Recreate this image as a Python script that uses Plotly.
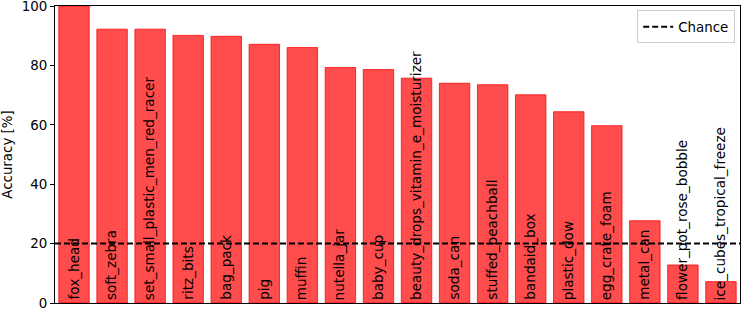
import plotly.graph_objects as go

categories = ["fox_head", "soft_zebra", "set_small_plastic_men_red_racer", "ritz_bits",
              "bag_pack", "pig", "muffin", "nutella_jar", "baby_cup",
              "beauty_drops_vitamin_e_moisturizer", "soda_can", "stuffed_beachball",
              "bandaid_box", "plastic_dow", "egg_crate_foam", "metal_can",
              "flower_pot_rose_bobble", "ice_cubes_tropical_freeze"]
accuracy = [100.0, 92.2, 92.2, 90.1, 89.8, 87.1, 86.0, 79.3, 78.6,
            75.7, 74.0, 73.5, 70.1, 64.4, 59.7, 27.7, 12.8, 7.2]
chance_level = 20
y_ticks = [0, 20, 40, 60, 80, 100]

FONT = "DejaVu Sans"
idx = list(range(len(categories)))

fig = go.Figure()
fig.add_trace(go.Bar(
    x=idx, y=accuracy, width=0.8,
    marker=dict(color="rgba(255,0,0,0.7)", line=dict(color="rgba(255,0,0,0.75)", width=1)),
    showlegend=False, hoverinfo="skip",
))
fig.add_trace(go.Scatter(
    x=[-0.5, len(categories) - 0.5], y=[chance_level, chance_level],
    mode="lines", name="Chance",
    line=dict(color="black", width=2, dash="6px,3px"),
))

for i, name in zip(idx, categories):
    fig.add_annotation(
        x=i, y=0, xref="x", yref="y", text=name, textangle=-90,
        showarrow=False, xanchor="center", yanchor="bottom", yshift=1, xshift=-1,
        font=dict(family=FONT, size=13.6, color="black"),
    )

fig.update_layout(
    width=748, height=312,
    margin=dict(l=55, r=8, t=6, b=9, autoexpand=False),
    paper_bgcolor="white", plot_bgcolor="white",
    font=dict(family=FONT, size=13.4, color="black"),
    bargap=0.2,
    legend=dict(x=0.993, y=0.985, xanchor="right", yanchor="top",
                bgcolor="rgba(255,255,255,0.8)", bordercolor="#cccccc", borderwidth=1,
                font=dict(family=FONT, size=13.4)),
)
fig.update_xaxes(range=[-0.5, len(categories) - 0.5], showticklabels=False, ticks="",
                 showgrid=False, zeroline=False, showline=True, linecolor="black",
                 linewidth=1, mirror=True, automargin=False)
fig.update_yaxes(range=[0, 100], tickvals=y_ticks, ticks="outside", ticklen=4,
                 tickcolor="black", showgrid=False, zeroline=False, showline=True,
                 linecolor="black", linewidth=1, mirror=True, automargin=False,
                 ticklabeloverflow="allow",
                 title=dict(text="Accuracy [%]", standoff=10, font=dict(family=FONT, size=13.4)))

fig.write_html("out.html", config={"displayModeBar": False},
               post_script="document.body.style.margin='0px';")
